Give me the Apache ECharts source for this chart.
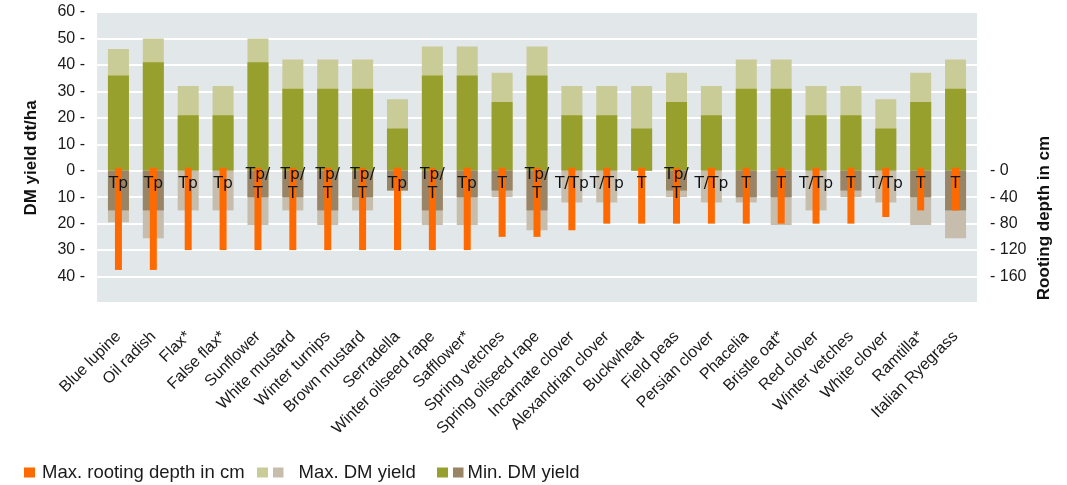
<!DOCTYPE html>
<html>
<head>
<meta charset="utf-8">
<script src="https://cdn.jsdelivr.net/npm/echarts@6/dist/echarts.min.js"></script>
<style>
html,body{margin:0;padding:0;background:#fff;}
#chart{width:1067px;height:485px;}
</style>
</head>
<body>
<div id="chart"></div>
<script>
var categories = ['Blue lupine','Oil radish','Flax*','False flax*','Sunflower','White mustard','Winter turnips','Brown mustard','Serradella','Winter oilseed rape','Safflower*','Spring vetches','Spring oilseed rape','Incarnate clover','Alexandrian clover','Buckwheat','Field peas','Persian clover','Phacelia','Bristle oat*','Red clover','Winter vetches','White clover','Ramtilla*','Italian Ryegrass'];
var maxYield = [46,50,32,32,50,42,42,42,27,47,47,37,47,32,32,32,37,32,42,42,32,32,27,37,42];
var minYield = [36,41,21,21,41,31,31,31,16,36,36,26,36,21,21,16,26,21,31,31,21,21,16,26,31];
var maxYieldBelow = [-19.5,-25.5,-15,-15,-20.5,-15,-20.5,-15,-7.5,-20.5,-20.5,-10,-22.5,-12,-12,0,-10,-12,-12,-20.5,-15,-10,-12,-20.5,-25.5];
var minYieldBelow = [-15,-15,0,0,-10,-10,-15,-10,-7.5,-15,-10,-7.5,-15,0,0,0,-7.5,0,-10,-10,0,-7.5,0,-10,-15];
var rootingDepth = [150,150,120,120,120,120,120,120,120,120,120,100,100,90,80,80,80,80,80,80,80,80,70,60,60];
var rootType = ['Tp','Tp','Tp','Tp','Tp/T','Tp/T','Tp/T','Tp/T','Tp','Tp/T','Tp','T','Tp/T','T/Tp','T/Tp','T','Tp/T','T/Tp','T','T','T/Tp','T','T/Tp','T','T'];
var leftTicks = [60,50,40,30,20,10,0,-10,-20,-30,-40];
var rightTicks = [0,40,80,120,160];

var chart = echarts.init(document.getElementById('chart'), null, {renderer:'canvas'});
var FONT = '"Liberation Sans", Arial, Helvetica, sans-serif';
var C = {
  maxUp:'#c9cc96', minUp:'#97a02c', maxDown:'#c7bdad', minDown:'#998565', root:'#ff6a00', bg:'#e2e7ea'
};
function wrapType(s){ return s === 'Tp/T' ? 'Tp/\nT' : s; }

var option = {
  animation:false,
  textStyle:{fontFamily:FONT},
  grid:[
    {left:97, right:90, top:12, bottom:182, show:true, backgroundColor:C.bg, borderWidth:0},
    {left:101, right:94, top:12, bottom:182}
  ],
  xAxis:[
    {type:'category', gridIndex:0, data:categories, show:false},
    {type:'category', gridIndex:1, data:categories,
      axisLine:{show:false}, axisTick:{show:false},
      axisLabel:{rotate:45, margin:31, fontSize:16, color:'#1a1a1a', fontFamily:FONT, interval:0}}
  ],
  yAxis:[
    {type:'value', gridIndex:0, min:-50, max:60, interval:10, position:'left',
      axisLine:{show:false}, axisTick:{show:false},
      splitLine:{show:true, lineStyle:{color:'#ffffff', width:1.8}},
      axisLabel:{margin:12, fontSize:16, color:'#1a1a1a', fontFamily:FONT,
        formatter:function(v){ return leftTicks.indexOf(v) >= 0 ? Math.abs(v) + ' -' : ''; }}},
    {type:'value', gridIndex:0, min:-240, max:200, interval:40, inverse:true, position:'right',
      axisLine:{show:false}, axisTick:{show:false}, splitLine:{show:false},
      axisLabel:{margin:13, fontSize:16, color:'#1a1a1a', fontFamily:FONT,
        formatter:function(v){ return rightTicks.indexOf(v) >= 0 ? '- ' + v : ''; }}},
    {type:'value', gridIndex:1, min:-50, max:60, show:false},
    {type:'value', gridIndex:1, min:-240, max:200, inverse:true, show:false}
  ],
  legend:[
    {data:['Max. rooting depth in cm'], left:24, top:463, padding:0, icon:'rect', itemWidth:11, itemHeight:10, selectedMode:false,
      textStyle:{fontSize:18.5, color:'#1a1a1a', fontFamily:FONT, rich:{g:{width:2}}},
      formatter:function(n){ return '{g|}' + n; }},
    {data:['Max. DM yield'], left:257, top:463, padding:0, icon:'rect', itemWidth:11, itemHeight:10, selectedMode:false,
      textStyle:{fontSize:18.5, color:'#1a1a1a', fontFamily:FONT,
        rich:{sq:{width:10.5, height:10, backgroundColor:C.maxDown}, sp:{width:15}}},
      formatter:function(n){ return '{sq|}{sp|}' + n; }},
    {data:['Min. DM yield'], left:437, top:463, padding:0, icon:'rect', itemWidth:11, itemHeight:10, selectedMode:false,
      textStyle:{fontSize:18.5, color:'#1a1a1a', fontFamily:FONT,
        rich:{sq:{width:10.5, height:10, backgroundColor:C.minDown}, sp:{width:4}}},
      formatter:function(n){ return '{sq|}{sp|}' + n; }}
  ],
  graphic:[
    {type:'text', x:31, y:158, rotation:Math.PI/2,
      style:{text:'DM yield dt/ha', font:'bold 17px ' + FONT, fill:'#111', align:'center', verticalAlign:'middle'}},
    {type:'text', x:1044, y:218, rotation:Math.PI/2,
      style:{text:'Rooting depth in cm', font:'bold 17px ' + FONT, fill:'#111', align:'center', verticalAlign:'middle'}}
  ],
  series:[
    {name:'Max. DM yield', type:'bar', xAxisIndex:1, yAxisIndex:2, data:maxYield, barWidth:21, barGap:'-100%',
      itemStyle:{color:C.maxUp}},
    {name:'Min. DM yield', type:'bar', xAxisIndex:1, yAxisIndex:2, data:minYield, barWidth:21, barGap:'-100%',
      itemStyle:{color:C.minUp}},
    {name:'Max. DM yield (lower)', type:'bar', xAxisIndex:1, yAxisIndex:2, data:maxYieldBelow, barWidth:21, barGap:'-100%',
      itemStyle:{color:C.maxDown}},
    {name:'Min. DM yield (lower)', type:'bar', xAxisIndex:1, yAxisIndex:2, data:minYieldBelow, barWidth:21, barGap:'-100%',
      itemStyle:{color:C.minDown}},
    {name:'Max. rooting depth in cm', type:'custom', xAxisIndex:1, yAxisIndex:3, z:10,
      itemStyle:{color:C.root},
      data:rootingDepth.map(function(v,i){ return [i, v]; }),
      renderItem:function(params, api){
        var i = api.value(0), v = api.value(1);
        var p0 = api.coord([i, 0]);
        var p1 = api.coord([i, v]);
        var w = 7;
        return {type:'group', children:[
          {type:'rect', shape:{x:p0[0]-w/2, y:p0[1]-3, width:w, height:p1[1]-p0[1]+3}, style:{fill:C.root}},
          {type:'text', x:p0[0], y:p0[1]+13.5, z2:5,
            style:{text:wrapType(rootType[i]), fill:'#111', font:'15.5px "DejaVu Sans"', align:'center', verticalAlign:'middle', lineHeight:19}}
        ]};
      }}
  ]
};
chart.setOption(option);
</script>
</body>
</html>
